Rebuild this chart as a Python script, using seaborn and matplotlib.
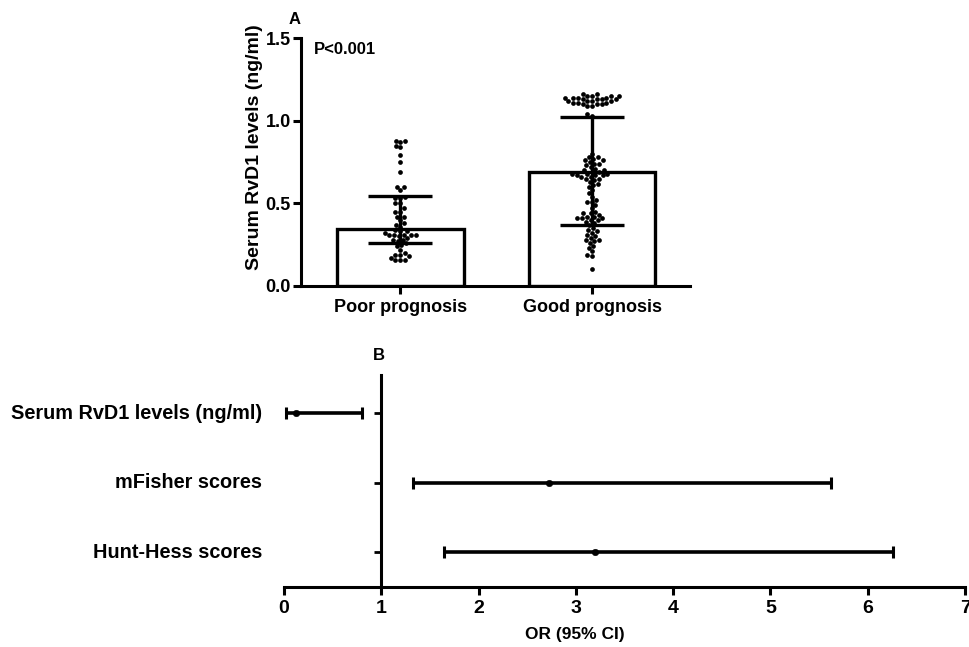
import numpy as np
import pandas as pd
import matplotlib
matplotlib.use('Agg')
import matplotlib.pyplot as plt
import seaborn as sns

# ---------------- data ----------------
groups = ['Poor prognosis', 'Good prognosis']
poor_values = [0.88, 0.88, 0.87, 0.85, 0.84, 0.79, 0.75, 0.69, 0.60, 0.60, 0.58,
               0.54, 0.53, 0.53, 0.50, 0.50, 0.47, 0.45, 0.45, 0.42, 0.42, 0.40,
               0.38, 0.37, 0.36, 0.34, 0.33, 0.33, 0.32, 0.31, 0.31, 0.31, 0.31,
               0.31, 0.30, 0.29, 0.28, 0.28, 0.27, 0.26, 0.25, 0.24, 0.22, 0.20,
               0.19, 0.19, 0.18, 0.17, 0.16, 0.16, 0.16]
good_values = [1.16, 1.16, 1.15, 1.15, 1.15, 1.15, 1.14, 1.14, 1.14, 1.14, 1.13,
               1.13, 1.13, 1.13, 1.12, 1.12, 1.12, 1.12, 1.11, 1.11, 1.11, 1.10,
               1.10, 1.10, 1.09, 1.09,
               1.04, 1.03,
               0.80, 0.78, 0.78, 0.77, 0.76, 0.76, 0.75, 0.74, 0.74, 0.73, 0.72,
               0.71, 0.70, 0.70, 0.69, 0.69, 0.68, 0.68, 0.68, 0.67, 0.67, 0.67,
               0.66, 0.66, 0.65, 0.65, 0.64, 0.63, 0.62, 0.61, 0.60,
               0.58, 0.56, 0.54, 0.52, 0.51, 0.51, 0.49, 0.47,
               0.45, 0.44, 0.44, 0.43, 0.42, 0.42, 0.41, 0.41, 0.41, 0.40, 0.40,
               0.39, 0.38, 0.37,
               0.35, 0.34, 0.33, 0.32, 0.31, 0.30, 0.29, 0.28, 0.28, 0.27, 0.26,
               0.24, 0.23, 0.21, 0.19, 0.18,
               0.10]
bar_heights = [0.345, 0.69]
err_low = [0.26, 0.37]
err_high = [0.545, 1.02]
rvd1_ticks = [0.0, 0.5, 1.0, 1.5]
rvd1_ticklabels = ['0.0', '0.5', '1.0', '1.5']

forest_labels = ['Serum RvD1 levels (ng/ml)', 'mFisher scores', 'Hunt-Hess scores']
or_values = [0.12, 2.72, 3.20]
ci_low = [0.02, 1.33, 1.64]
ci_high = [0.80, 5.62, 6.26]
or_ticks = [0, 1, 2, 3, 4, 5, 6, 7]

# ---------------- style ----------------
sns.set_theme(style='ticks')
plt.rcParams['font.family'] = ['Liberation Sans', 'DejaVu Sans']
plt.rcParams['font.weight'] = 'bold'
plt.rcParams['axes.labelweight'] = 'bold'
plt.rcParams['text.color'] = 'black'
plt.rcParams['axes.labelcolor'] = 'black'
plt.rcParams['xtick.color'] = 'black'
plt.rcParams['ytick.color'] = 'black'
plt.rcParams['xtick.labelcolor'] = 'black'
plt.rcParams['ytick.labelcolor'] = 'black'

fig = plt.figure(figsize=(9.69, 6.47), dpi=100)

# ---------------- panel A ----------------
axA = fig.add_axes([0.311, 0.558, 0.401, 0.383])
df_bars = pd.DataFrame({'group': groups, 'median': bar_heights})
sns.barplot(data=df_bars, x='group', y='median', order=groups, color='white',
            saturation=1, edgecolor='black', linewidth=2.4, width=0.66,
            errorbar=None, ax=axA, zorder=1)
df_pts = pd.DataFrame({
    'group': [groups[0]] * len(poor_values) + [groups[1]] * len(good_values),
    'value': poor_values + good_values,
})
sns.swarmplot(data=df_pts, x='group', y='value', order=groups, color='black',
              size=3.4, ax=axA, zorder=3)
hb = np.array(bar_heights)
axA.errorbar(np.arange(len(groups)), hb,
             yerr=[hb - np.array(err_low), np.array(err_high) - hb],
             fmt='none', ecolor='black', elinewidth=2.4, capsize=23,
             capthick=2.4, zorder=4)
axA.set_xlim(-0.516, 1.51)
axA.set_ylim(0, 1.5)
axA.set_yticks(rvd1_ticks, rvd1_ticklabels)
axA.set_xlabel('')
axA.set_ylabel('Serum RvD1 levels (ng/ml)', fontsize=14, fontweight='bold')
axA.yaxis.set_label_coords(-0.1, 0.56)
for s in ['top', 'right']:
    axA.spines[s].set_visible(False)
for s in ['left', 'bottom']:
    axA.spines[s].set_linewidth(2.2)
    axA.spines[s].set_color('black')
axA.tick_params(axis='both', length=6, width=2.2, color='black', labelsize=13,
                labelcolor='black')
axA.tick_params(axis='y', pad=1.5)
for lab in axA.get_xticklabels() + axA.get_yticklabels():
    lab.set_fontweight('bold')
axA.text(0.031, 1.43, 'P<0.001', transform=axA.get_yaxis_transform(),
         fontsize=12, fontweight='bold', va='center', ha='left')
fig.text(295 / 969, 1 - 20 / 647, 'A', fontsize=12, fontweight='bold',
         ha='center', va='center')

# ---------------- panel B ----------------
axB = fig.add_axes([0.293, 0.0927, 0.703, 0.3277])
ypos = np.arange(len(forest_labels))
orv = np.array(or_values)
axB.errorbar(orv, ypos, xerr=[orv - np.array(ci_low), np.array(ci_high) - orv],
             fmt='none', ecolor='black', elinewidth=2.6, capsize=4.5,
             capthick=2.2, zorder=3)
sns.scatterplot(x=or_values, y=ypos, color='black', s=22, edgecolor='black',
                ax=axB, zorder=4)
axB.set_xlim(0, 7)
axB.set_ylim(2.5, -0.55)
axB.set_xticks(or_ticks, [str(t) for t in or_ticks])
axB.set_yticks(ypos, [''] * len(ypos))
for s in ['top', 'right']:
    axB.spines[s].set_visible(False)
axB.spines['left'].set_position(('data', 1))
for s in ['left', 'bottom']:
    axB.spines[s].set_linewidth(2.2)
    axB.spines[s].set_color('black')
axB.tick_params(axis='x', length=6, width=2.2, color='black', labelsize=14,
                labelcolor='black')
axB.tick_params(axis='y', length=5, width=2.0, color='black')
for lab in axB.get_xticklabels():
    lab.set_fontweight('bold')
axB.set_xlabel('OR (95% CI)', fontsize=12.5, fontweight='bold')
axB.xaxis.set_label_coords((575 - 284) / 681, -0.19)
axB.set_ylabel('')
for y, lab in zip(ypos, forest_labels):
    axB.text(-0.032, y, lab, transform=axB.get_yaxis_transform(), ha='right',
             va='center', fontsize=14.3, fontweight='bold')
fig.text(379 / 969, 1 - 355 / 647, 'B', fontsize=12, fontweight='bold',
         ha='center', va='center')

fig.savefig('out.png', dpi=100)
